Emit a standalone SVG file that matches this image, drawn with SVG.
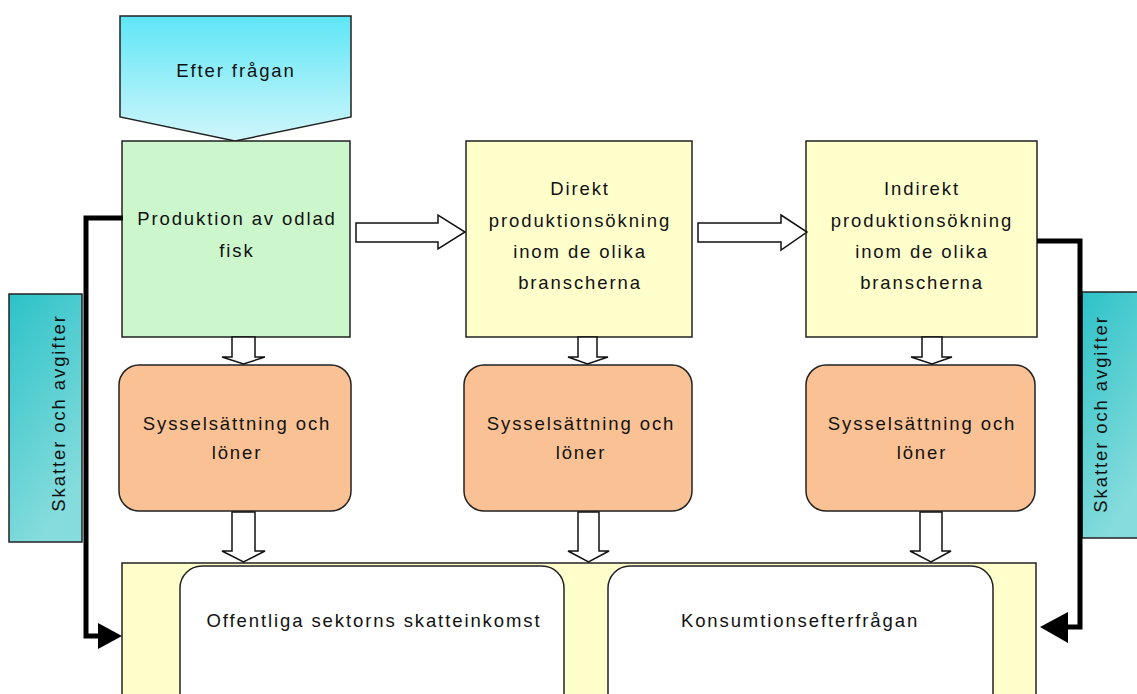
<svg xmlns="http://www.w3.org/2000/svg" width="1137" height="694" viewBox="0 0 1137 694">
<defs>
<linearGradient id="gCyan" x1="0" y1="0" x2="0" y2="1">
<stop offset="0" stop-color="#5ee6f6"/>
<stop offset="1" stop-color="#d0f6fb"/>
</linearGradient>
<linearGradient id="gTeal" x1="0" y1="0" x2="0.4" y2="1">
<stop offset="0" stop-color="#2cc2c8"/>
<stop offset="1" stop-color="#86dcdc"/>
</linearGradient>
<style>
.t{font-family:"Liberation Sans",Arial,sans-serif;font-size:18.5px;fill:#111;letter-spacing:1.9px;text-anchor:middle}
.box{stroke:#222;stroke-width:1.5}
.hollow{fill:#fff;stroke:#111;stroke-width:1.5;stroke-linejoin:miter}
.thick{fill:none;stroke:#000;stroke-width:5}
</style>
</defs>
<rect width="1137" height="694" fill="#fff"/>

<g id="tax-left">
<rect x="9" y="294" width="73" height="248" fill="url(#gTeal)" class="box"/>
<text class="t" transform="translate(65,413) rotate(-90)">Skatter och avgifter</text>
</g>
<g id="tax-right">
<rect x="1082" y="292" width="60" height="246" fill="url(#gTeal)" class="box"/>
<text class="t" transform="translate(1107,414) rotate(-90)">Skatter och avgifter</text>
</g>

<g id="efterfragan">
<polygon points="120,16 351,16 351,117 235,141 120,117" fill="url(#gCyan)" class="box"/>
<text class="t" x="236" y="77">Efter frågan</text>
</g>

<g id="produktion">
<rect x="122" y="141" width="228" height="196" fill="#ccf7cc" class="box"/>
<text class="t" x="237" y="225">Produktion av odlad</text>
<text class="t" x="237" y="257">fisk</text>
</g>

<g id="direkt">
<rect x="466" y="141" width="226" height="196" fill="#ffffcc" class="box"/>
<text class="t" x="580" y="195">Direkt</text>
<text class="t" x="580" y="227">produktionsökning</text>
<text class="t" x="580" y="258">inom de olika</text>
<text class="t" x="580" y="289">branscherna</text>
</g>

<g id="indirekt">
<rect x="806" y="141" width="231" height="196" fill="#ffffcc" class="box"/>
<text class="t" x="922" y="195">Indirekt</text>
<text class="t" x="922" y="227">produktionsökning</text>
<text class="t" x="922" y="258">inom de olika</text>
<text class="t" x="922" y="289">branscherna</text>
</g>

<g id="syss1">
<rect x="119" y="365" width="232" height="146" rx="20" ry="20" fill="#fac294" class="box"/>
<text class="t" x="237" y="430">Sysselsättning och</text>
<text class="t" x="237" y="459">löner</text>
</g>
<g id="syss2">
<rect x="464" y="365" width="228" height="146" rx="20" ry="20" fill="#fac294" class="box"/>
<text class="t" x="581" y="430">Sysselsättning och</text>
<text class="t" x="581" y="459">löner</text>
</g>
<g id="syss3">
<rect x="806" y="365" width="229" height="146" rx="20" ry="20" fill="#fac294" class="box"/>
<text class="t" x="922" y="430">Sysselsättning och</text>
<text class="t" x="922" y="459">löner</text>
</g>

<g id="bottom">
<rect x="122" y="563" width="914" height="150" fill="#ffffcc" class="box"/>
</g>
<g id="offentliga">
<rect x="180" y="566" width="384" height="150" rx="22" ry="22" fill="#fff" class="box"/>
<text class="t" x="374" y="627">Offentliga sektorns skatteinkomst</text>
</g>
<g id="konsumtion">
<rect x="608" y="566" width="385" height="150" rx="22" ry="22" fill="#fff" class="box"/>
<text class="t" x="800" y="627">Konsumtionsefterfrågan</text>
</g>

<g id="connectors">
<polygon class="hollow" points="356,223 438,223 438,215 465,232 438,249 438,242 356,242"/>
<polygon class="hollow" points="698,223 781,223 781,215 807,232 781,250 781,242 698,242"/>
<polygon class="hollow" points="232,337 255,337 255,357 265,357 243.5,364 222,357 232,357"/>
<polygon class="hollow" points="578,337 597,337 597,357 608,357 587.5,364 568,357 578,357"/>
<polygon class="hollow" points="922,337 942,337 942,357 952,357 932,364 911,357 922,357"/>
<polygon class="hollow" points="232,512 255,512 255,551 265,551 243.5,562 222,551 232,551"/>
<polygon class="hollow" points="578,512 599,512 599,551 609,551 588.5,562 568,551 578,551"/>
<polygon class="hollow" points="920,512 942,512 942,551 951,551 931,562 910,551 920,551"/>
<polyline class="thick" points="123,218 86,218 86,636 100,636"/>
<polygon points="122,636 98,623 98,649" fill="#000"/>
<polyline class="thick" points="1037,241 1080,241 1080,627 1066,627"/>
<polygon points="1040,627 1068,612 1068,643" fill="#000"/>
</g>
</svg>
